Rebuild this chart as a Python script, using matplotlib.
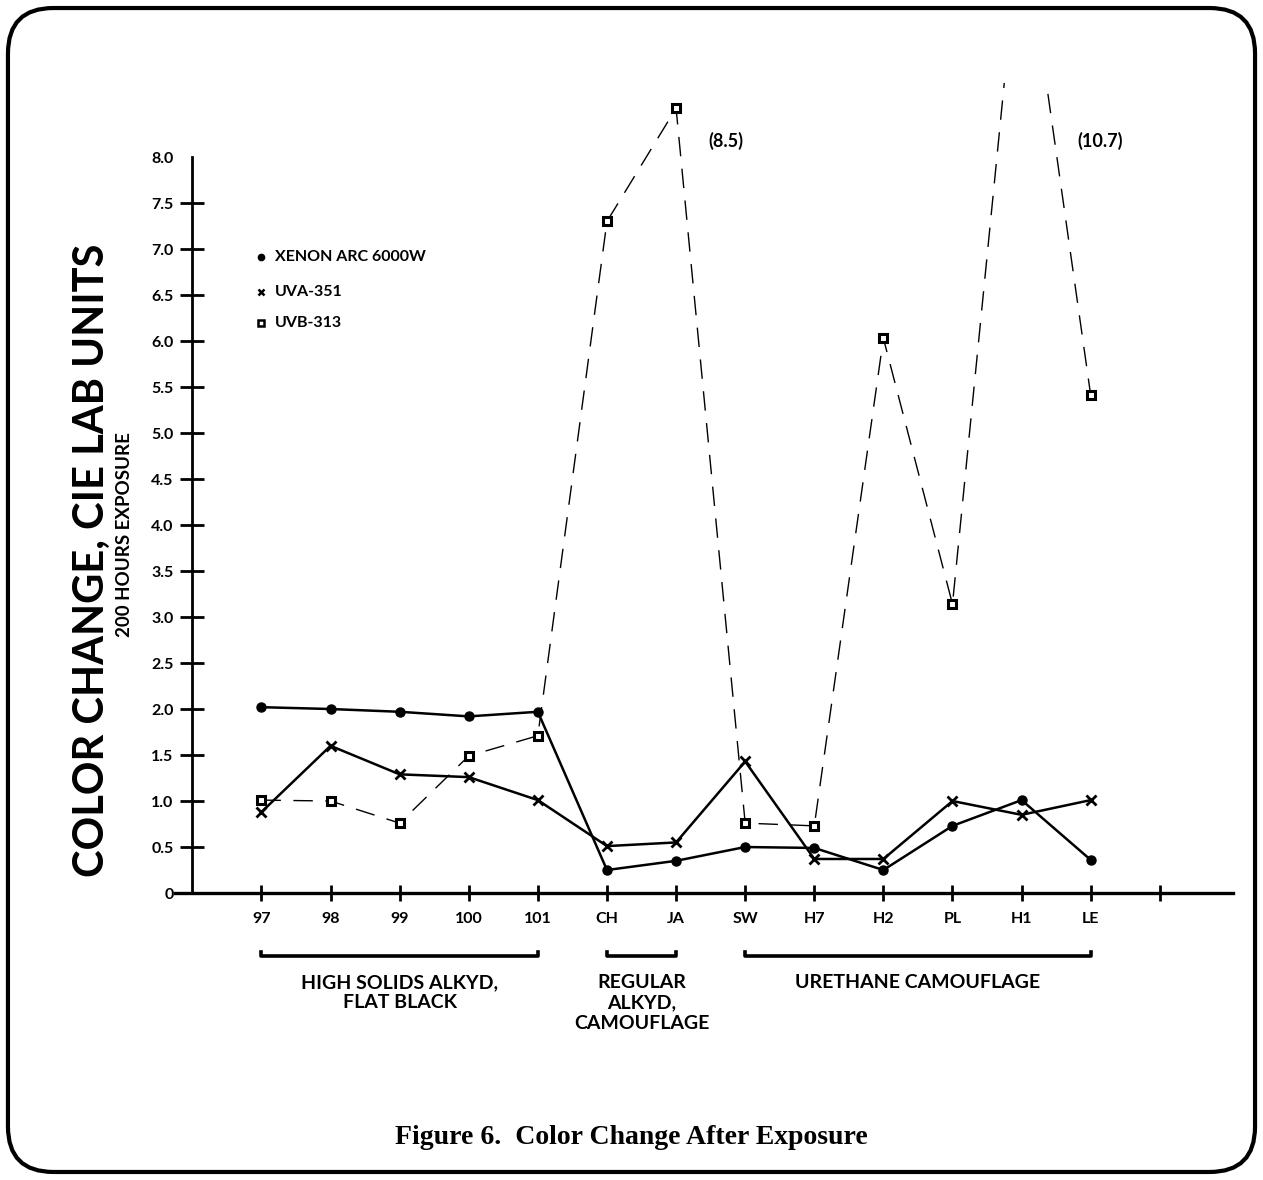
import numpy as np
import matplotlib
matplotlib.use("Agg")
import matplotlib.pyplot as plt
from matplotlib.patches import FancyBboxPatch

# panel codes on the x axis
panels = ["97", "98", "99", "100", "101", "CH", "JA", "SW", "H7", "H2", "PL", "H1", "LE"]

# colour change after 200 h
xenon = [2.02, 2.0, 1.97, 1.92, 1.97, 0.25, 0.35, 0.50, 0.49, 0.25, 0.73, 1.01, 0.36]
uva = [0.88, 1.60, 1.29, 1.26, 1.01, 0.51, 0.55, 1.43, 0.37, 0.37, 1.00, 0.85, 1.01]
uvb = [1.01, 1.00, 0.76, 1.49, 1.71, 7.30, 8.53, 0.76, 0.73, 6.03, 3.14, 10.7, 5.41]

groups = ["HIGH SOLIDS ALKYD,\nFLAT BLACK", "REGULAR\nALKYD,\nCAMOUFLAGE", "URETHANE CAMOUFLAGE"]
group_span = [(0, 4), (5, 6), (7, 12)]

legend_names = ["XENON ARC 6000W", "UVA-351", "UVB-313"]

plt.rcParams['font.family'] = ['Lato', 'DejaVu Sans']
plt.rcParams['font.weight'] = 'bold'

fig = plt.figure(figsize=(12.63, 11.8), dpi=100)
ax = fig.add_axes([0.1386, 0.2432, 0.8377, 0.6861])

x = np.arange(len(panels))
ax.plot(x, xenon, color="black", lw=1.8, marker="o", ms=6.5)
ax.plot(x, uva, color="black", lw=1.8, marker="x", ms=7, mew=2)
ax.plot(x, uvb, color="black", lw=1.0, dashes=(14, 9), marker="s", ms=5.5,
        mfc="white", mec="black", mew=2.2)

ax.set_xlim(-1.25, 14.06)
ax.set_ylim(0, 8.8)

for s in ["top", "right"]:
    ax.spines[s].set_visible(False)
ax.spines["left"].set_position(("data", -1))
ax.spines["left"].set_bounds(0, 8)
ax.spines["left"].set_linewidth(2)
ax.spines["bottom"].set_linewidth(2.4)

ax.set_xticks(list(x) + [13])
ax.set_xticklabels(panels + [""], fontweight="bold")
ax.tick_params(axis="x", direction="inout", length=12, width=2, pad=8, labelsize=11.5)

yt = np.arange(0, 8.01, 0.5)
ax.set_yticks(yt)
ax.set_yticklabels(["0"] + ["%.1f" % v for v in yt[1:]], fontweight="bold")
ax.tick_params(axis="y", direction="inout", length=17, width=2, pad=5, labelsize=11.5)
ylines = ax.yaxis.get_major_ticks()
ylines[-1].tick1line.set_visible(False)
ylines[0].tick1line.set_visible(False)

# legend drawn as text
leg_y = [6.91, 6.53, 6.20]
ax.plot(0, leg_y[0], marker="o", color="black", ms=4.5)
ax.plot(0, leg_y[1], marker="x", color="black", ms=5, mew=1.8)
ax.plot(0, leg_y[2], marker="s", mfc="white", mec="black", ms=4.5, mew=1.8)
for name, yy in zip(legend_names, leg_y):
    ax.text(0.2, yy, name, va="center", ha="left", fontsize=11.5, fontweight="bold")

# off-scale values
ax.text(6.72, 8.18, "(8.5)", ha="center", va="center", fontsize=13, fontweight="bold")
ax.text(12.14, 8.18, "(10.7)", ha="center", va="center", fontsize=13, fontweight="bold")

# group brackets under the axis
for (a, b), g in zip(group_span, groups):
    ax.plot([a, a, b, b], [-0.64, -0.685, -0.685, -0.64], color="black", lw=2.6,
            clip_on=False, solid_joinstyle="round")
    ax.text((a + b) / 2, -0.88, g, ha="center", va="top", fontsize=14,
            fontweight="bold", linespacing=1.25)

fig.text(0.0725, 0.525, "COLOR CHANGE, CIE LAB UNITS", rotation=90, ha="center",
         va="center", fontsize=30, fontweight="bold")
fig.text(0.0985, 0.5466, "200 HOURS EXPOSURE", rotation=90, ha="center",
         va="center", fontsize=13.5, fontweight="bold")

fig.text(0.5, 0.0356, "Figure 6.  Color Change After Exposure", ha="center", va="center",
         fontsize=20, fontweight="bold", family=["Liberation Serif", "DejaVu Serif"])

border = FancyBboxPatch((0.0063, 0.0068), 0.9874, 0.9864,
                        boxstyle="round,pad=0,rounding_size=0.036",
                        transform=fig.transFigure, fill=False, lw=3, ec="black",
                        mutation_aspect=1263 / 1180)
fig.patches.append(border)

fig.savefig("out.png", dpi=100)
